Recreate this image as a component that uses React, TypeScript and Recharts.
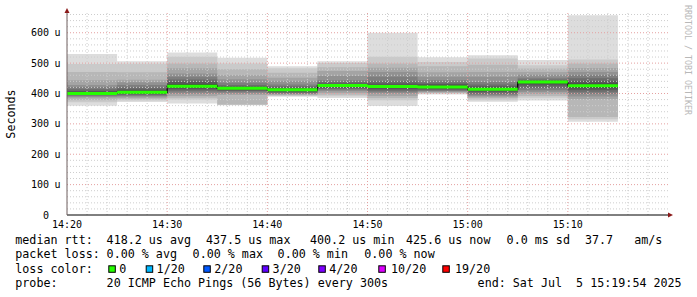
import React from 'react';
import { ComposedChart, Area, Line, XAxis, YAxis, ReferenceLine, ReferenceDot } from 'recharts';

// ---- data ----
const X_TICKS = [0, 10, 20, 30, 40, 50]; // minutes after 14:20
const X_LABELS = ['14:20', '14:30', '14:40', '14:50', '15:00', '15:10'];
const Y_TICKS = [0, 100, 200, 300, 400, 500, 600];
const BAR_START = [0, 5, 10, 15, 20, 25, 30, 35, 40, 45, 50];
const STEP_MIN = 5;
const MEDIAN = [400.2, 404, 424, 417, 412, 426, 423, 421, 414, 437.5, 425.6];

// 20 sorted pings per 5-minute step (microseconds)
const P1420 = [360, 371, 378, 384, 389, 391, 394, 396, 398, 400.0, 400.4, 404, 408, 414, 421, 428, 444, 471, 497, 530];
const P1425 = [372, 377, 381, 385, 389, 392, 395, 398, 400, 402, 406, 409, 413, 420, 428, 437, 445, 470, 498, 506];
const P1430 = [367, 380, 386, 392, 398, 403, 409, 414, 419, 422, 426, 431, 438, 446, 455, 466, 483, 499, 521, 535];
const P1435 = [361, 362, 364, 395, 399, 403, 407, 410, 413, 415.5, 418.5, 420, 423, 428, 435, 447, 460, 480, 499, 518];
const P1440 = [389, 392, 394, 396, 398, 400, 402, 405, 408, 410, 414, 416, 419, 424, 430, 440, 452, 468, 483, 490];
const P1445 = [385, 391, 396, 402, 407, 411, 415, 419, 422, 424.5, 427.5, 430, 433, 438, 444, 458, 474, 486, 500, 506];
const P1450 = [359, 378, 385, 392, 400, 404, 409, 414, 418, 421, 425, 428, 433, 440, 455, 471, 485, 499, 521, 600];
const P1455 = [397, 400, 402, 404, 406, 408, 411, 414, 417, 420, 422, 427, 431, 436, 444, 455, 470, 490, 504, 519];
const P1500 = [373, 378, 384, 388, 392, 396, 400, 405, 409, 412, 416, 419, 424, 430, 438, 455, 471, 495, 515, 526];
const P1505 = [377, 386, 392, 398, 405, 411, 418, 426, 432, 436.5, 438.5, 440, 442, 446, 452, 462, 471, 482, 493, 510];
const P1510 = [307, 315, 323, 381, 390, 398, 406, 412, 418, 423.2, 428, 433, 440, 450, 460, 471, 484, 499, 512, 658];
const PINGS = [P1420, P1425, P1430, P1435, P1440, P1445, P1450, P1455, P1500, P1505, P1510];

const LOSS_LABELS = ['0', '1/20', '2/20', '3/20', '4/20', '10/20', '19/20'];
const LOSS_COLORS = ['#26ff00', '#00b8ff', '#0059ff', '#5e00ff', '#7e00ff', '#dd00ff', '#ff0000'];

const RTT_LABEL = 'median rtt:';
const RTT_ITEMS = ['418.2 us avg', '437.5 us max', '400.2 us min', '425.6 us now', '0.0 ms sd', '37.7   am/s'];
const LOSS_LINE_LABEL = 'packet loss:';
const LOSS_ITEMS = ['0.00 % avg', '0.00 % max', '0.00 % min', '0.00 % now'];
const PROBE_LABEL = 'probe:';
const PROBE_TEXT = '20 ICMP Echo Pings (56 Bytes) every 300s';
const END_TEXT = 'end: Sat Jul  5 15:19:54 2025';
const Y_TITLE = 'Seconds';
const WATERMARK = 'RRDTOOL / TOBI OETIKER';

// ---- derived table: one row per step boundary, plus green segments broken by nulls ----
type Row = { t: number; p?: number[]; m?: number | null; g?: number | null };
const rows: Row[] = [];
BAR_START.forEach((t, i) => {
  rows.push({ t, p: PINGS[i], m: MEDIAN[i], g: MEDIAN[i] });
  rows.push({ t: t + STEP_MIN, g: MEDIAN[i] });
  rows.push({ t: t + STEP_MIN, g: null });
});
rows.push({ t: BAR_START[BAR_START.length - 1] + STEP_MIN, p: PINGS[PINGS.length - 1], m: MEDIAN[MEDIAN.length - 1] });

const smokeRows = rows.filter((r) => r.p);
const greenRows = rows.map((r) => ({ t: r.t, g: r.g === undefined ? null : r.g }));

const HALF = 10;
const greys = Array.from({ length: HALF }, (_, k) => {
  const c = Math.floor((190 / HALF) * (HALF - (k + 1))) + 50;
  const h = c.toString(16).padStart(2, '0');
  return '#' + h + h + h;
});

const minorX: number[] = [];
for (let t = 2; t < 60; t += 2) if (t % 10 !== 0) minorX.push(t);
const majorX = [10, 20, 30, 40, 50];
const minorY: number[] = [];
for (let v = 20; v <= 660; v += 20) if (v % 100 !== 0) minorY.push(v);
const majorY = [100, 200, 300, 400, 500, 600];

const MONO = 'DejaVu Sans Mono';

const YTick = (props: any) => {
  const { x, y, payload } = props;
  const v = payload.value;
  return (
    <g>
      <text x={x - 10} y={y} dy={3.5} textAnchor="end" fontFamily={MONO} fontSize={10} fill="#000">
        {String(v)}
      </text>
      {v !== 0 && (
        <text x={x - 4.5} y={y} dy={3.5} textAnchor="start" fontFamily={MONO} fontSize={10} fill="#000">
          u
        </text>
      )}
    </g>
  );
};

const XTick = (props: any) => {
  const { x, y, payload } = props;
  const idx = X_TICKS.indexOf(payload.value);
  return (
    <text x={x} y={y + 12.5} textAnchor="middle" fontFamily={MONO} fontSize={10} fill="#000">
      {X_LABELS[idx]}
    </text>
  );
};

const UpArrow = (props: any) => {
  const { cx, cy } = props;
  if (cx == null || cy == null) return null;
  return <polygon points={`${cx - 2.5},${cy} ${cx + 2.5},${cy} ${cx},${cy - 5}`} fill="#8b1a1a" />;
};
const RightArrow = (props: any) => {
  const { cx, cy } = props;
  if (cx == null || cy == null) return null;
  return <polygon points={`${cx},${cy - 2.5} ${cx},${cy + 2.5} ${cx + 5},${cy}`} fill="#8b1a1a" />;
};

const RTT_X = [107.3, 206.7, 310.7, 406.7, 507.3, 585.7];
const LOSS_X = [107.3, 193.3, 278.3, 365];
const BOX_X = [108.3, 145.7, 203.3, 261.7, 318.3, 378.3, 442.3];
const BOX_LABEL_X = [120, 157.3, 215, 273.3, 330, 391.7, 455.7];

const smokeKey = (k: number) => (d: any) => (d && d.p ? [d.p[k], d.p[19 - k]] : null);

export default function App() {
  const txt = { fontFamily: MONO, fontSize: 11.7, fill: '#000', style: { whiteSpace: 'pre' as const } };
  return (
    <div style={{ position: 'absolute', left: 0, top: 0, width: 697, height: 297, background: '#fff' }}>
      <ComposedChart width={697} height={297} data={smokeRows} margin={{ top: 13, right: 29, left: 0, bottom: 0 }}>
        <XAxis
          dataKey="t"
          type="number"
          domain={[0, 60]}
          ticks={X_TICKS}
          allowDataOverflow
          height={82}
          axisLine={{ stroke: '#000' }}
          tickLine={false}
          tickSize={0}
          tickMargin={0}
          tick={<XTick />}
          interval={0}
        />
        <YAxis
          type="number"
          domain={[0, 665]}
          ticks={Y_TICKS}
          allowDataOverflow
          width={67}
          axisLine={{ stroke: '#6e5e5e' }}
          tickLine={false}
          tickSize={0}
          tickMargin={8}
          tick={<YTick />}
          interval={0}
        />
        {greys.map((c, k) => (
          <Area
            key={'smoke' + k}
            dataKey={smokeKey(k)}
            type="stepAfter"
            fill={c}
            fillOpacity={1}
            stroke="none"
            isAnimationActive={false}
            activeDot={false}
            dot={false}
          />
        ))}
        {minorX.map((t) => (
          <ReferenceLine key={'mx' + t} x={t} stroke="#cdcdcd" strokeDasharray="1 2" />
        ))}
        {minorY.map((v) => (
          <ReferenceLine key={'my' + v} y={v} stroke="#cdcdcd" strokeDasharray="1 2" />
        ))}
        {majorX.map((t) => (
          <ReferenceLine key={'Mx' + t} x={t} stroke="#e4a0a0" strokeDasharray="1 2" />
        ))}
        {majorY.map((v) => (
          <ReferenceLine key={'My' + v} y={v} stroke="#e4a0a0" strokeDasharray="1 2" />
        ))}
        <Line
          dataKey="m"
          type="stepAfter"
          stroke="#000"
          strokeWidth={1.2}
          dot={false}
          activeDot={false}
          isAnimationActive={false}
        />
        <Line
          data={greenRows}
          dataKey="g"
          type="linear"
          stroke="#26ff00"
          strokeWidth={3}
          dot={false}
          activeDot={false}
          connectNulls={false}
          isAnimationActive={false}
        />
        <ReferenceDot x={0} y={665} r={3} shape={<UpArrow />} ifOverflow="visible" />
        <ReferenceDot x={60} y={0} r={3} shape={<RightArrow />} ifOverflow="visible" />
      </ComposedChart>
      <svg width={697} height={297} style={{ position: 'absolute', left: 0, top: 0, pointerEvents: 'none' }}>
        <text
          x={10.5}
          y={114}
          transform="rotate(-90 10.5 114)"
          textAnchor="middle"
          dominantBaseline="central"
          fontFamily={MONO}
          fontSize={11.7}
          fill="#000"
        >
          {Y_TITLE}
        </text>
        <text transform="translate(684.5 5) rotate(90)" fontFamily={MONO} fontSize={8.3} fill="#b8b8b8">
          {WATERMARK}
        </text>
        <text x={15.3} y={244} {...txt}>{RTT_LABEL}</text>
        {RTT_ITEMS.map((s, i) => (
          <text key={'r' + i} x={RTT_X[i] - 0.7} y={244} {...txt}>{s}</text>
        ))}
        <text x={15.3} y={258.3} {...txt}>{LOSS_LINE_LABEL}</text>
        {LOSS_ITEMS.map((s, i) => (
          <text key={'l' + i} x={LOSS_X[i] - 0.7} y={258.3} {...txt}>{s}</text>
        ))}
        <text x={15.3} y={272.6} {...txt}>{'loss color:'}</text>
        {LOSS_LABELS.map((s, i) => (
          <g key={'b' + i}>
            <rect x={BOX_X[i] + 0.5} y={265.8} width={6.5} height={6.5} fill={LOSS_COLORS[i]} stroke="#000" strokeWidth={1} />
            <text x={BOX_LABEL_X[i] - 0.7} y={272.6} {...txt}>{s}</text>
          </g>
        ))}
        <text x={15.3} y={287} {...txt}>{PROBE_LABEL}</text>
        <text x={106.6} y={287} {...txt}>{PROBE_TEXT}</text>
        <text x={477.6} y={287} {...txt}>{END_TEXT}</text>
      </svg>
    </div>
  );
}
